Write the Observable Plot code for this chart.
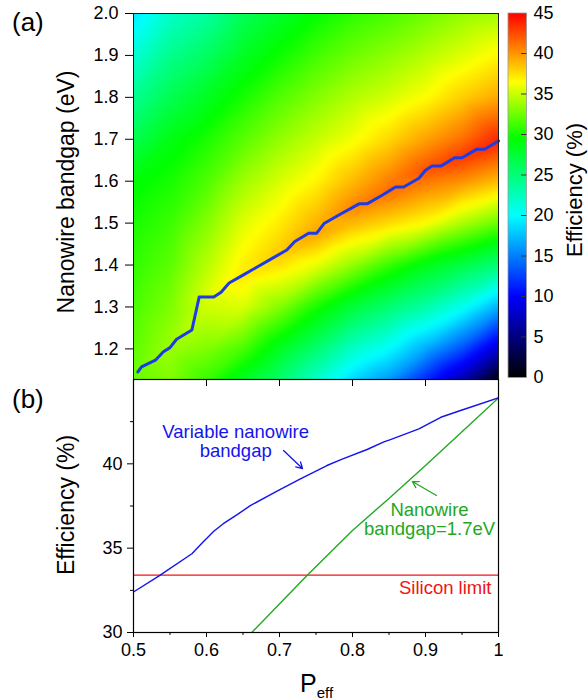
<!DOCTYPE html>
<html>
<head>
<meta charset="utf-8">
<script src="https://cdn.jsdelivr.net/npm/d3@7"></script>
<script src="https://cdn.jsdelivr.net/npm/@observablehq/plot@0.6"></script>
<style>
  body { margin: 0; background: #fff; }
  #fig { position: relative; width: 588px; height: 700px; overflow: hidden;
         font-family: "Liberation Sans", Arial, sans-serif; color: #000; }
  #fig > * { position: absolute; }
  .title { white-space: nowrap; line-height: 1; }
  .rot { transform: translate(-50%, -50%) rotate(-90deg); }
</style>
</head>
<body>
<div id="fig"></div>
<script>
// ---- (a) efficiency map: P_eff columns x nanowire bandgap rows ----
const pEff = [0.5, 0.55, 0.6, 0.65, 0.7, 0.75, 0.8, 0.85, 0.9, 0.95, 1.0];
const bandgapNodes = [1.127, 1.2, 1.3, 1.4, 1.5, 1.6, 1.7, 1.8, 1.9, 2.0];
// efficiency (%) for each P_eff column, listed at bandgapNodes
const efficiencyMap = [
  [32.3, 32.0, 31.5, 30.8, 30.1, 29.2, 26.6, 24.1, 21.5, 19.0],
  [33.0, 33.8, 32.9, 32.0, 31.1, 30.1, 28.8, 26.5, 24.3, 22.0],
  [31.0, 33.0, 35.2, 34.5, 33.1, 31.6, 30.2, 28.3, 25.9, 23.5],
  [28.3, 31.5, 35.5, 37.0, 35.6, 33.8, 31.9, 30.1, 28.2, 26.3],
  [25.5, 28.3, 33.1, 37.5, 37.1, 35.4, 33.5, 31.7, 29.8, 28.0],
  [22.0, 25.4, 30.1, 35.9, 39.0, 36.8, 34.9, 33.1, 31.3, 29.5],
  [18.5, 22.1, 27.4, 33.5, 38.9, 38.8, 36.2, 34.4, 32.5, 30.7],
  [16.0, 20.0, 25.3, 31.0, 37.7, 40.8, 37.8, 35.3, 33.4, 31.5],
  [11.5, 16.7, 23.3, 28.7, 36.5, 41.1, 39.6, 36.5, 34.5, 32.5],
  [ 7.0, 13.1, 20.6, 27.0, 34.2, 40.2, 41.3, 38.1, 35.6, 33.5],
  [ 0.5,  8.0, 16.8, 25.0, 32.3, 38.7, 43.8, 39.4, 36.8, 34.0]
];
// ridge of maximum efficiency in each column
const ridgeBandgap    = [1.145, 1.203, 1.324, 1.375, 1.426, 1.475, 1.537, 1.577, 1.626, 1.656, 1.696];
const ridgeEfficiency = [32.4, 33.8, 35.55, 37.3, 38.3, 39.6, 40.55, 41.4, 42.3, 43.1, 43.9];

// optimal nanowire bandgap path drawn over the map
const pathP  = [0.506, 0.511, 0.53, 0.541, 0.55, 0.559, 0.58, 0.59, 0.61, 0.62, 0.631, 0.65, 0.67, 0.69,
                0.71, 0.721, 0.74, 0.751, 0.761, 0.785, 0.809, 0.82, 0.84, 0.859, 0.87, 0.891, 0.9,
                0.909, 0.921, 0.94, 0.95, 0.97, 0.981, 1.0];
const pathEg = [1.145, 1.157, 1.173, 1.193, 1.203, 1.223, 1.245, 1.324, 1.324, 1.335, 1.357, 1.376, 1.396, 1.416,
                1.436, 1.456, 1.476, 1.476, 1.499, 1.523, 1.546, 1.546, 1.566, 1.586, 1.586, 1.607, 1.626,
                1.636, 1.636, 1.656, 1.656, 1.676, 1.676, 1.696];

const bandgapTicks = [1.2, 1.3, 1.4, 1.5, 1.6, 1.7, 1.8, 1.9, 2.0];
const colorbarTicks = [0, 5, 10, 15, 20, 25, 30, 35, 40, 45];

// ---- (b) efficiency versus P_eff ----
const variableP   = [0.5, 0.534, 0.58, 0.594, 0.61, 0.623, 0.642, 0.66, 0.696, 0.728, 0.765, 0.785,
                     0.82, 0.843, 0.852, 0.891, 0.902, 0.921, 0.948, 1.0];
const variableEff = [32.4, 33.33, 34.67, 35.31, 36.0, 36.45, 36.99, 37.52, 38.37, 39.1, 39.9, 40.26,
                     40.85, 41.3, 41.44, 42.07, 42.33, 42.76, 43.16, 43.91];
const fixedP   = [0.662, 0.738, 0.8, 0.85, 0.9, 0.95, 1.0];
const fixedEff = [30.0, 33.4, 36.05, 37.95, 39.9, 41.9, 43.91];
const siliconLimit = 33.4;

const pTicks = [0.5, 0.6, 0.7, 0.8, 0.9, 1.0];
const pMinorTicks = [0.55, 0.65, 0.75, 0.85, 0.95];
const effTicks = [30, 35, 40];
const effMinorTicks = [32.5, 37.5, 42.5];

const BLUE = "#1414ee", GREEN = "#22a822", RED = "#f01414", PATH = "#1e3ce6";
const centeredNotes = [
  {p: 0.64,   eff: 41.35, text: "Variable nanowire\nbandgap", color: BLUE},
  {p: 0.9055, eff: 36.7,  text: "Nanowire\nbandgap=1.7eV",    color: GREEN}
];
const limitNote = [{p: 0.9904, eff: 32.65, text: "Silicon limit", color: RED}];
const pointers = [
  {p1: 0.7055, e1: 40.79, p2: 0.7315, e2: 39.72, color: BLUE},
  {p1: 0.915,  e1: 38.12, p2: 0.882,  e2: 38.95, color: GREEN}
];

// ---- build tables ----
const samples = [];
pEff.forEach((p, i) => {
  bandgapNodes.forEach((eg, j) => samples.push({p, eg, eff: efficiencyMap[i][j]}));
  samples.push({p, eg: ridgeBandgap[i], eff: ridgeEfficiency[i]});
});
const path = pathP.map((p, i) => ({p, eg: pathEg[i]}));
const variable = variableP.map((p, i) => ({p, eff: variableEff[i]}));
const fixed = fixedP.map((p, i) => ({p, eff: fixedEff[i]}));

const FONT = '"Liberation Sans", Arial, sans-serif';
const baseStyle = {fontFamily: FONT, fontSize: "18px", color: "#000", background: "transparent", overflow: "visible"};
const efficiencyColor = {
  type: "linear",
  domain: [0, 10, 20, 29.5, 36.5, 45],
  range: ["#000000", "#0000ff", "#00ffff", "#00ff00", "#ffff00", "#ff0000"],
  interpolate: "rgb",
  clamp: true
};

const fig = document.getElementById("fig");

// (a) map
const panelA = Plot.plot({
  width: 500, height: 381,
  marginLeft: 133, marginRight: 2, marginTop: 13, marginBottom: 2,
  x: {domain: [0.5, 1], axis: null},
  y: {domain: [1.127, 2.0], axis: null},
  color: efficiencyColor,
  style: baseStyle,
  marks: [
    Plot.raster(samples, {x: "p", y: "eg", fill: "eff", interpolate: "barycentric", blur: 2,
                          x1: 0.5, x2: 1, y1: 1.127, y2: 2.0}),
    Plot.line(path, {x: "p", y: "eg", stroke: PATH, strokeWidth: 3, strokeLinejoin: "round", strokeLinecap: "round"}),
    Plot.frame({stroke: "#1a1a1a", strokeWidth: 1}),
    Plot.axisY({ticks: bandgapTicks, tickSize: 8, tickPadding: 7, tickFormat: d3.format(".1f"), label: null})
  ]
});
panelA.style.left = "0px"; panelA.style.top = "0px";
fig.appendChild(panelA);

// colour bar
const colorbar = Plot.plot({
  width: 88, height: 390,
  marginLeft: 7.5, marginRight: 62, marginTop: 12.5, marginBottom: 13,
  x: {domain: [0, 1], axis: null},
  y: {domain: [0, 45], axis: null},
  color: efficiencyColor,
  style: baseStyle,
  marks: [
    Plot.raster({fill: (x, y) => y, x1: 0, x2: 1, y1: 0, y2: 45}),
    Plot.axisY({anchor: "right", ticks: colorbarTicks.slice(1, -1), tickSize: -6, text: null, stroke: "#333", label: null}),
    Plot.frame({stroke: "#9a9a9a", strokeWidth: 0.8}),
    Plot.axisY({anchor: "right", ticks: colorbarTicks, tickSize: 0, tickPadding: 7, label: null})
  ]
});
colorbar.style.left = "500px"; colorbar.style.top = "0px";
fig.appendChild(colorbar);

// (b) curves
const panelB = Plot.plot({
  width: 500, height: 330,
  marginLeft: 133, marginRight: 2, marginTop: 9, marginBottom: 68,
  x: {domain: [0.5, 1], axis: null},
  y: {domain: [30, 45], axis: null},
  style: baseStyle,
  marks: [
    Plot.ruleY([siliconLimit], {stroke: RED, strokeWidth: 1.4}),
    Plot.line(fixed, {x: "p", y: "eff", stroke: GREEN, strokeWidth: 1.4, clip: true}),
    Plot.line(variable, {x: "p", y: "eff", stroke: BLUE, strokeWidth: 1.4, clip: true}),
    Plot.text(centeredNotes, {x: "p", y: "eff", text: "text", fill: "color", textAnchor: "middle",
                              fontSize: 18.5, lineHeight: 1.05, lineAnchor: "middle"}),
    Plot.text(limitNote, {x: "p", y: "eff", text: "text", fill: "color", textAnchor: "end",
                          fontSize: 18.5, lineAnchor: "middle"}),
    Plot.arrow(pointers, {x1: "p1", y1: "e1", x2: "p2", y2: "e2", stroke: "color",
                          strokeWidth: 1.3, headLength: 8, bend: 0}),
    Plot.frame({stroke: "#000", strokeWidth: 1.2}),
    Plot.axisX({anchor: "top", ticks: pTicks.slice(1, -1), tickSize: -6, text: null, label: null}),
    Plot.axisX({anchor: "bottom", ticks: pTicks, tickSize: 5, tickPadding: 6, label: null,
                tickFormat: d => d === 1 ? "1" : d3.format(".1f")(d)}),
    Plot.axisX({anchor: "bottom", ticks: pMinorTicks, tickSize: 3, text: null, label: null}),
    Plot.axisY({ticks: effTicks, tickSize: 6, tickPadding: 5, label: null}),
    Plot.axisY({ticks: effMinorTicks, tickSize: 3, text: null, label: null})
  ]
});
panelB.style.left = "0px"; panelB.style.top = "370px";
fig.appendChild(panelB);

// titles and panel letters
function addText(html, css, cls = "title") {
  const el = document.createElement("div");
  el.className = cls;
  el.innerHTML = html;
  Object.assign(el.style, css);
  fig.appendChild(el);
}
addText("(a)", {left: "12px", top: "9px", fontSize: "26px"});
addText("(b)", {left: "12px", top: "386px", fontSize: "26px"});
addText("Nanowire bandgap (eV)", {left: "66px", top: "192px", fontSize: "23px"}, "title rot");
addText("Efficiency (%)", {left: "66px", top: "505px", fontSize: "23px"}, "title rot");
addText("Efficiency (%)", {left: "575px", top: "190px", fontSize: "22px"}, "title rot");
addText('P<span style="font-size:15px;position:relative;top:6px">eff</span>',
        {left: "300px", top: "671px", fontSize: "25px"});
</script>
</body>
</html>
